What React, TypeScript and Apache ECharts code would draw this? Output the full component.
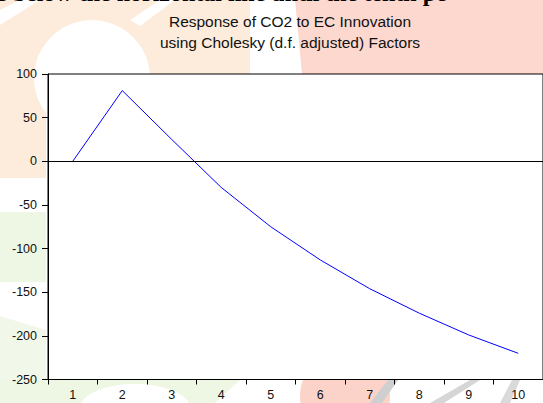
import React, { useEffect, useRef } from "react";
import * as echarts from "echarts";

const categories = ["1", "2", "3", "4", "5", "6", "7", "8", "9", "10"];
const responseValues = [0, 81, 25, -30, -75, -113, -146, -174, -199, -220];
const titleLines = ["Response of CO2 to EC Innovation", "using Cholesky (d.f. adjusted) Factors"];
const yMin = -250;
const yMax = 100;
const yStep = 50;

export default function App() {
  const ref = useRef<HTMLDivElement>(null);
  useEffect(() => {
    if (!ref.current) return;
    const chart = echarts.init(ref.current, null, { renderer: "svg" });
    const font = "'Liberation Sans', Arial, sans-serif";
    chart.setOption({
      animation: false,
      backgroundColor: "#ffffff",
      graphic: [
        // faint watermark background
        { type: "polygon", z: -10, shape: { points: [[0, 0], [250, 0], [250, 74], [46, 74], [46, 178], [0, 178]] }, style: { fill: "#fdecdb" } },
        { type: "circle", z: -9, shape: { cx: 92, cy: 78, r: 58 }, style: { fill: "#ffffff" } },
        { type: "polygon", z: -9, shape: { points: [[0, 10], [20, 0], [40, 0], [0, 25]] }, style: { fill: "#ffffff" } },
        { type: "polygon", z: -9, shape: { points: [[130, 20], [160, 0], [175, 0], [140, 26]] }, style: { fill: "#ffffff" } },
        { type: "polygon", z: -10, shape: { points: [[295, 0], [543, 0], [543, 74], [302, 74]] }, style: { fill: "#fdd8cf" } },
        { type: "rect", z: -10, shape: { x: 0, y: 212, width: 46, height: 70 }, style: { fill: "#eef7e3" } },
        { type: "polygon", z: -10, shape: { points: [[0, 316], [46, 330], [46, 403], [0, 403]] }, style: { fill: "#f1f8ea" } },
        { type: "polygon", z: -10, shape: { points: [[0, 380], [240, 380], [215, 403], [0, 403]] }, style: { fill: "#eef7e3" } },
        { type: "ellipse", z: -9, shape: { cx: 135, cy: 408, rx: 55, ry: 24 }, style: { fill: "#ffffff" } },
        { type: "circle", z: -10, shape: { cx: 345, cy: 396, r: 45 }, style: { fill: "#fcd3c9" } },
        { type: "polygon", z: -8, shape: { points: [[370, 403], [388, 380], [398, 380], [382, 403]] }, style: { fill: "#cfcfcf" } },
        { type: "polygon", z: -8, shape: { points: [[430, 403], [470, 380], [480, 380], [444, 403]] }, style: { fill: "#d6d6d6" } },
        { type: "polygon", z: -8, shape: { points: [[500, 403], [512, 380], [520, 380], [510, 403]] }, style: { fill: "#dadada" } },
        {
          type: "text", z: -5, x: -4, y: -7,
          style: { text: "e below the horizontal line until the tenth pe", font: "bold 24px 'Liberation Serif', 'Times New Roman', serif", fill: "#000000", verticalAlign: "middle", align: "left" },
        },
        {
          type: "text", x: 290, y: 21,
          style: { text: titleLines[0], font: `15.5px ${font}`, fill: "#111111", align: "center", verticalAlign: "middle" },
        },
        {
          type: "text", x: 290, y: 42,
          style: { text: titleLines[1], font: `15.5px ${font}`, fill: "#111111", align: "center", verticalAlign: "middle" },
        },
      ],
      grid: {
        left: 48,
        top: 74,
        bottom: 23.5,
        right: -11.5,
        show: true,
        backgroundColor: "#ffffff",
        borderColor: "#000000",
        borderWidth: 1,
      },
      xAxis: {
        type: "category",
        data: categories,
        boundaryGap: true,
        axisLine: { show: true, onZero: false, lineStyle: { color: "#000000", width: 1 } },
        axisTick: { show: true, length: 5, alignWithLabel: false, lineStyle: { color: "#000000" } },
        axisLabel: { color: "#111111", fontSize: 12.5, fontFamily: font, margin: 9 },
        splitLine: { show: false },
      },
      yAxis: {
        type: "value",
        min: yMin,
        max: yMax,
        interval: yStep,
        axisLine: { show: true, lineStyle: { color: "#000000", width: 1 } },
        axisTick: { show: true, length: 6, lineStyle: { color: "#000000" } },
        axisLabel: { color: "#111111", fontSize: 12.5, fontFamily: font, margin: 11 },
        splitLine: { show: false },
      },
      series: [
        {
          type: "line",
          data: responseValues,
          symbol: "none",
          lineStyle: { color: "#0000ff", width: 1 },
          markLine: {
            silent: true,
            symbol: "none",
            label: { show: false },
            lineStyle: { color: "#000000", width: 1, type: "solid" },
            data: [{ yAxis: 0 }],
          },
        },
      ],
    });
    return () => chart.dispose();
  }, []);
  return (
    <div style={{ position: "absolute", left: 0, top: 0, width: 543, height: 403, overflow: "hidden" }}>
      <div ref={ref} style={{ width: 543, height: 403 }} />
    </div>
  );
}
